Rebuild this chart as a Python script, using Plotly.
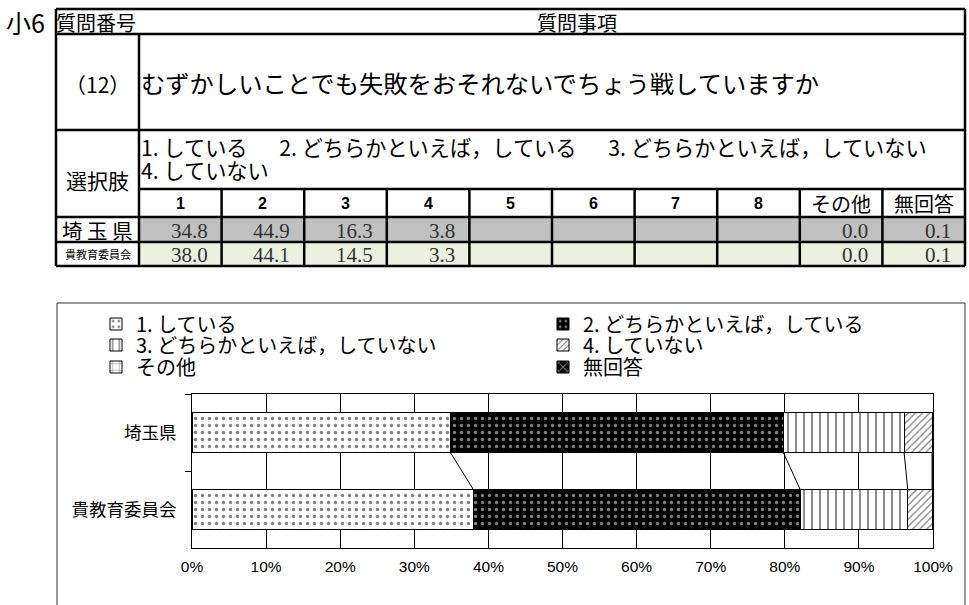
import plotly.graph_objects as go
import numpy as np

W, H = 969, 605
JP = "Noto Sans CJK JP"
SERIF = "Liberation Serif"

# ---------------- data ----------------
grade_label = "小6"
question_no = "（12）"
question_text = "むずかしいことでも失敗をおそれないでちょう戦していますか"
choices_line1 = "1. している　\u20022. どちらかといえば，している　\u20023. どちらかといえば，していない"
choices_line2 = "4. していない"
col_headers = ["1", "2", "3", "4", "5", "6", "7", "8", "その他", "無回答"]
regions = ["埼玉県", "貴教育委員会"]
saitama_table = [34.8, 44.9, 16.3, 3.8, None, None, None, None, 0.0, 0.1]
board_table = [38.0, 44.1, 14.5, 3.3, None, None, None, None, 0.0, 0.1]

series_names = ["1. している", "2. どちらかといえば，している", "3. どちらかといえば，していない",
                "4. していない", "その他", "無回答"]
saitama_vals = [34.8, 44.9, 16.3, 3.8, 0.0, 0.1]
board_vals = [38.0, 44.1, 14.5, 3.3, 0.0, 0.1]


def px(x):
    return x / W


def py(y):
    return 1 - y / H


fig = go.Figure()

# ---------------- bar chart ----------------
patterns = [
    dict(shape=".", fgcolor="black", bgcolor="white", size=7, solidity=0.18),
    dict(shape=".", fgcolor="white", bgcolor="black", size=7, solidity=0.18),
    dict(shape="|", fgcolor="black", bgcolor="white", size=8, solidity=0.22),
    dict(shape="/", fgcolor="black", bgcolor="white", size=5, solidity=0.25),
    dict(shape="+", fgcolor="black", bgcolor="white", size=8, solidity=0.15),
    dict(shape="x", fgcolor="white", bgcolor="black", size=8, solidity=0.3),
]
legend_ids = ["legend", "legend2", "legend3", "legend4", "legend5", "legend6"]
leg_x = [96, 543, 96, 543, 96, 543]
leg_y = [324, 324, 345, 345, 367, 367]

for i, name in enumerate(series_names):
    fig.add_trace(go.Bar(
        y=regions, x=[saitama_vals[i], board_vals[i]], orientation="h", name=name,
        marker=dict(color="white", line=dict(color="black", width=1), pattern=patterns[i]),
        legend=legend_ids[i], hoverinfo="skip",
    ))

# series lines connecting cumulative boundaries (Excel style)
s_cum = np.cumsum(saitama_vals) / np.sum(saitama_vals) * 100
b_cum = np.cumsum(board_vals) / np.sum(board_vals) * 100
bargap = 0.49
half = (1 - bargap) / 2
shapes = []
for k in range(len(series_names) - 1):
    shapes.append(dict(type="line", xref="x", yref="y", x0=s_cum[k], y0=0 + half,
                       x1=b_cum[k], y1=1 - half, line=dict(color="black", width=1)))

# outer chart frame
shapes.append(dict(type="rect", xref="paper", yref="paper", x0=px(57), y0=py(303), x1=px(965), y1=py(612),
                   line=dict(color="#333333", width=1), layer="below"))

# ---------------- table ----------------
L, R, C = 56, 965, 139
Y0, Y1, Y2, Y3, Y4, Y5, Y6 = 9, 34, 130, 189, 217, 242, 266
colw = (R - C) / 10
col_x = [C + k * colw for k in range(11)]

shapes.append(dict(type="rect", xref="paper", yref="paper", x0=px(C), x1=px(R), y0=py(Y5), y1=py(Y4),
                   fillcolor="#C0C0C0", line=dict(width=0), layer="below"))
shapes.append(dict(type="rect", xref="paper", yref="paper", x0=px(C), x1=px(R), y0=py(Y6), y1=py(Y5),
                   fillcolor="#EBF1DE", line=dict(width=0), layer="below"))

TL = dict(color="black", width=2.5)


def hline(y, x0, x1):
    shapes.append(dict(type="line", xref="paper", yref="paper", x0=px(x0), x1=px(x1), y0=py(y), y1=py(y), line=TL))


def vline(x, y0, y1):
    shapes.append(dict(type="line", xref="paper", yref="paper", x0=px(x), x1=px(x), y0=py(y0), y1=py(y1), line=TL))


for y in [Y0, Y1, Y2, Y4, Y5, Y6]:
    hline(y, L, R)
hline(Y3, C, R)
vline(L, Y0, Y6)
vline(R, Y0, Y6)
vline(C, Y1, Y6)
for k in range(1, 10):
    vline(col_x[k], Y3, Y6)

ann = []


def text(x, y, s, size, family=JP, xanchor="left", color="black"):
    ann.append(dict(x=px(x), y=py(y), xref="paper", yref="paper", text=s, showarrow=False,
                    xanchor=xanchor, yanchor="middle", borderpad=0, borderwidth=0,
                    font=dict(size=size, family=family, color=color)))


text(6, 22, grade_label, 25)
text(56, 22, "質問番号", 20)
text(577, 22, "質問事項", 20, xanchor="center")
text((L + C) / 2, 84, question_no, 21, xanchor="center")
text(141, 83, question_text, 24.3)
text((L + C) / 2, 180, "選択肢", 21, xanchor="center")
text(141, 146, choices_line1, 21.2)
text(141, 169, choices_line2, 21.2)
for k, h in enumerate(col_headers):
    if len(h) > 1:
        text((col_x[k] + col_x[k + 1]) / 2, (Y3 + Y4) / 2, h, 20, xanchor="center")
    else:
        text((col_x[k] + col_x[k + 1]) / 2, (Y3 + Y4) / 2, "<b>" + h + "</b>", 16,
             family="Liberation Sans", xanchor="center")
text((L + C) / 2, (Y4 + Y5) / 2, "埼 玉 県", 20.5, xanchor="center")
text((L + C) / 2, (Y5 + Y6) / 2, regions[1], 11, xanchor="center")
for row_vals, yc in [(saitama_table, (Y4 + Y5) / 2), (board_table, (Y5 + Y6) / 2)]:
    for k, v in enumerate(row_vals):
        if v is not None:
            text(col_x[k + 1] - 14, yc + 1, f"{v:.1f}", 21, family=SERIF, xanchor="right", color="#333333")

legends = {}
for i, lid in enumerate(legend_ids):
    legends[lid] = dict(orientation="h", x=px(leg_x[i]), y=py(leg_y[i]), xanchor="left", yanchor="middle",
                        font=dict(size=20, family=JP, color="black"), bgcolor="rgba(0,0,0,0)",
                        itemclick=False, itemdoubleclick=False)

fig.update_layout(
    width=W, height=H, margin=dict(l=0, r=0, t=0, b=0, autoexpand=False),
    paper_bgcolor="white", plot_bgcolor="white",
    barmode="stack", barnorm="percent", bargap=bargap,
    showlegend=True,
    xaxis=dict(domain=[px(192), px(933)], range=[0, 100], dtick=10, ticksuffix="%",
               showgrid=True, gridcolor="black", gridwidth=1, zeroline=False,
               showline=True, linecolor="black", linewidth=1, mirror=True, automargin=False,
               ticks="", ticklabelstandoff=4, tickfont=dict(size=15.5, family="Liberation Sans", color="black"),
               fixedrange=True),
    yaxis=dict(domain=[py(548), py(394)], type="category", categoryorder="array", categoryarray=regions,
               autorange="reversed", tickson="boundaries", ticks="outside", ticklen=6, tickcolor="black",
               showline=True, linecolor="black", linewidth=1, mirror=True, showgrid=False, automargin=False,
               tickfont=dict(size=17.5, family=JP, color="black"), ticklabelstandoff=11, fixedrange=True),
    shapes=shapes, annotations=ann,
    **legends,
)

fig.write_html("out.html", post_script="document.body.style.margin='0';",
               config={"displayModeBar": False})
